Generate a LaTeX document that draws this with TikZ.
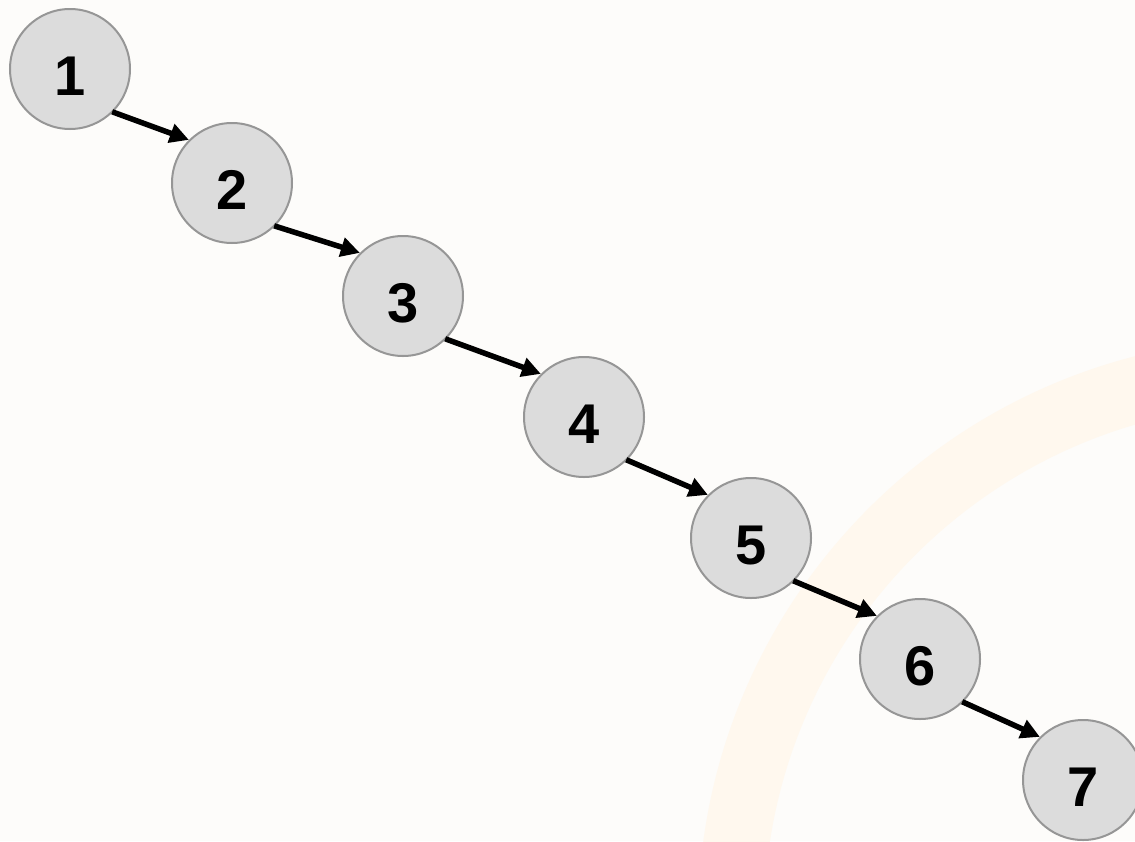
\documentclass[tikz,border=0pt]{standalone}
\usepackage{fontspec}
\setmainfont{Liberation Sans}
\usetikzlibrary{arrows.meta}
\definecolor{bgcol}{RGB}{253,252,250}
\definecolor{arccol}{RGB}{255,248,238}
\definecolor{nodefill}{RGB}{220,220,220}
\definecolor{nodeline}{RGB}{150,150,150}
\tikzset{
  numnode/.style={circle, draw=nodeline, line width=2pt, fill=nodefill,
    minimum size=120pt, inner sep=0pt, text height=52pt, text depth=0pt,
    font=\fontsize{56pt}{56pt}\selectfont\bfseries},
  link/.style={line width=5.5pt, -{Triangle[length=19pt,width=19pt]}, shorten <=-1pt}
}
\begin{document}
\begin{tikzpicture}[x=1pt,y=-1pt]
\fill[bgcol] (0,0) rectangle (1135,841);
\useasboundingbox (0,0) rectangle (1135,841);
\begin{scope}
\clip (0,0) rectangle (1135,841);
\draw[arccol, line width=66pt] (1280,920) circle[radius=549];
\end{scope}
\node[numnode] (n1) at (70,69) {1};
\node[numnode] (n2) at (232,183) {2};
\node[numnode] (n3) at (403,296) {3};
\node[numnode] (n4) at (584,417) {4};
\node[numnode] (n5) at (751,538) {5};
\node[numnode] (n6) at (920,659) {6};
\node[numnode] (n7) at (1083,780) {7};
\draw[link] (n1.south east) -- (n2.north west);
\draw[link] (n2.south east) -- (n3.north west);
\draw[link] (n3.south east) -- (n4.north west);
\draw[link] (n4.south east) -- (n5.north west);
\draw[link] (n5.south east) -- (n6.north west);
\draw[link] (n6.south east) -- (n7.north west);
\end{tikzpicture}
\end{document}
